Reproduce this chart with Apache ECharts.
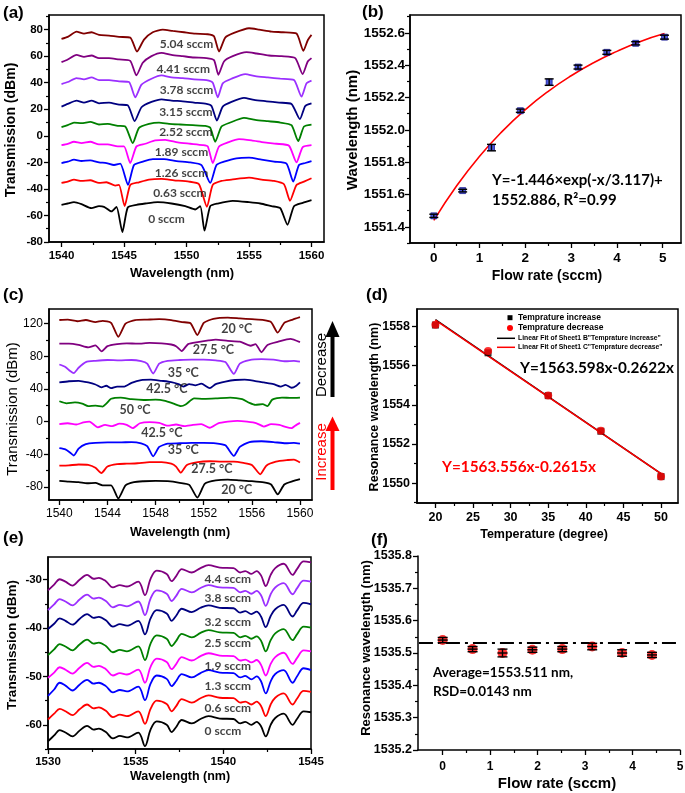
<!DOCTYPE html>
<html><head><meta charset="utf-8">
<script src="https://cdn.jsdelivr.net/npm/echarts@6/dist/echarts.min.js"></script>
<style>html,body{margin:0;padding:0;background:#fff}#c{width:685px;height:793px}</style>
</head><body><div id="c"></div>
<script>
// ---------- Panel (a): spectra vs flow rate ----------
const a0 = [[1540,-52],[1540.5,-51],[1541,-50],[1541.6,-51.5],[1542.4,-54.5],[1543,-53],[1543.4,-53.5],[1544,-57],[1544.4,-53.5],[1544.87,-72.5],[1545.3,-54],[1546,-52],[1546.7,-51],[1547.7,-50],[1548.8,-51],[1549.9,-53],[1550.7,-55.5],[1551.1,-53],[1551.44,-71.5],[1551.9,-53],[1552.5,-51],[1553.7,-49],[1555,-50],[1555.9,-51],[1556.8,-53],[1557.5,-54.5],[1558.08,-67],[1558.6,-53],[1559.3,-50.5],[1560,-48.5]];
const a1 = [[1540,-35.5],[1540.5,-34.5],[1541,-33],[1541.6,-34],[1542.3,-33.5],[1543,-35.5],[1543.6,-35],[1544.3,-37.5],[1544.6,-37],[1545.05,-53],[1545.5,-37],[1546.2,-35],[1547,-33],[1548,-32.5],[1549,-33.5],[1550.2,-34.5],[1551,-36.5],[1551.63,-53.5],[1552.1,-37],[1552.8,-34],[1553.6,-33],[1555,-31.5],[1556,-33],[1557,-34],[1557.8,-36.5],[1558.28,-49],[1558.8,-37],[1559.4,-34.5],[1560,-32]];
const a2 = [[1540,-20.5],[1540.5,-19.5],[1541,-18],[1541.6,-19],[1542.3,-18.5],[1543,-20],[1543.6,-20.5],[1544.2,-22],[1544.7,-21],[1545.32,-37],[1545.8,-22],[1546.5,-19.5],[1547.3,-17.5],[1548.2,-17.5],[1549.2,-19],[1550.3,-20],[1551.2,-22],[1551.9,-35.5],[1552.4,-22],[1553,-19.5],[1554,-17],[1555,-16.5],[1556,-18],[1557,-19.5],[1558,-21],[1558.54,-34.5],[1559,-22],[1559.5,-20.5],[1560,-19]];
const a3 = [[1540,-7],[1540.5,-6],[1541,-4.5],[1541.6,-5.5],[1542.3,-4.5],[1543,-6.5],[1543.7,-6.5],[1544.5,-8],[1545,-8],[1545.5,-20.5],[1546,-8],[1546.7,-6],[1547.5,-3.5],[1548.3,-3],[1549.3,-5],[1550.3,-6],[1551.3,-7],[1551.7,-8],[1552.1,-20.5],[1552.6,-8],[1553.3,-5],[1554.2,-2.5],[1555.2,-3.5],[1556.2,-5],[1557.2,-6],[1558.2,-7.5],[1558.8,-20],[1559.3,-8.5],[1560,-7]];
const a4 = [[1540,6.5],[1540.5,8],[1541,10],[1541.6,9.5],[1542.3,10.5],[1543,8.5],[1543.7,9],[1544.5,7.5],[1545.1,7],[1545.7,-5.5],[1546.2,6],[1547,9],[1547.8,10],[1548.6,9],[1549.5,8.5],[1550.5,8],[1551.5,7.5],[1551.9,6],[1552.3,-4.5],[1552.8,7],[1553.5,10],[1554.6,13.5],[1555.5,12],[1556.5,11],[1557.5,10],[1558.4,8],[1558.94,-4],[1559.4,7],[1560,8.5]];
const a5 = [[1540,22],[1540.5,24],[1541.2,26.5],[1541.8,25],[1542.4,26.5],[1543,24.5],[1543.8,25],[1544.6,23.5],[1545.3,23],[1545.85,11],[1546.4,21.5],[1547.2,25.5],[1548,27.5],[1548.8,26.5],[1549.7,26],[1550.6,25],[1551.6,24],[1552,22.5],[1552.43,11.5],[1552.9,22],[1553.6,25.5],[1554.6,28.5],[1555.4,27],[1556.4,26],[1557.4,25],[1558.4,24],[1559.07,12.5],[1559.5,22.5],[1560,24.5]];
const a6 = [[1540,39],[1540.5,40.5],[1541.2,43.5],[1541.8,42.5],[1542.4,44],[1543,42],[1543.8,42],[1544.6,41],[1545.4,40.5],[1545.9,29],[1546.4,38.5],[1547.2,43],[1548,45.5],[1548.8,44],[1549.7,43.5],[1550.6,42.5],[1551.6,42],[1552.1,40],[1552.5,29],[1552.9,39.5],[1553.6,43],[1554.7,46.5],[1555.5,45],[1556.5,44],[1557.5,43],[1558.6,42],[1559.2,29.5],[1559.6,39.5],[1560,41.5]];
const a7 = [[1540,55.5],[1540.5,57.5],[1541.2,61],[1541.8,59.5],[1542.4,60.5],[1543,58.5],[1543.8,58.5],[1544.6,57.5],[1545.5,56.5],[1545.99,45.5],[1546.5,55],[1547.2,60],[1548,62.5],[1548.8,61],[1549.7,60],[1550.6,59],[1551.6,58.5],[1552.2,57],[1552.55,46],[1553,56],[1553.7,60],[1554.8,63],[1555.6,62],[1556.6,60.5],[1557.6,60],[1558.7,58.5],[1559.29,46.5],[1559.7,56],[1560,58.5]];
const a8 = [[1540,73],[1540.5,74.5],[1541.2,78.5],[1541.8,77],[1542.4,78],[1543,76],[1543.8,75.5],[1544.6,74.5],[1545.5,74],[1546.04,63.5],[1546.6,72.5],[1547.3,78],[1548.1,80],[1548.9,79],[1549.8,78],[1550.7,77],[1551.7,76.5],[1552.2,75],[1552.6,63.5],[1553.1,74],[1553.8,77.5],[1555,81],[1555.8,80],[1556.8,78.5],[1557.7,78],[1558.8,77],[1559.35,64],[1559.7,72],[1560,76]];
const aLabelNames = ['0 sccm','0.63 sccm','1.26 sccm','1.89 sccm','2.52 sccm','3.15 sccm','3.78 sccm','4.41 sccm','5.04 sccm'];
const aLabelPos = [[1546.97,-62.8],[1547.37,-43.8],[1547.5,-28.2],[1547.5,-12.6],[1547.85,2.3],[1547.85,17.8],[1547.9,34.4],[1547.64,49.8],[1547.9,68.7]];
const aXTicks = [1540,1545,1550,1555,1560], aXMinor = [1542.5,1547.5,1552.5,1557.5];
const aYTicks = [-80,-60,-40,-20,0,20,40,60,80], aYMinor = [-70,-50,-30,-10,10,30,50,70,90];

// ---------- Panel (b): wavelength vs flow rate ----------
const bFlow = [0,0.63,1.26,1.89,2.52,3.15,3.78,4.41,5.04];
const bWave = [1551.468,1551.624,1551.89,1552.118,1552.295,1552.388,1552.479,1552.535,1552.573];
const bErr  = [0.01,0.008,0.02,0.01,0.02,0.012,0.012,0.01,0.012];
const bFitX = [0,0.5,1,1.5,2,2.5,3,3.5,4,4.5,5.04];
const bFitY = [1551.44,1551.654,1551.837,1551.992,1552.125,1552.238,1552.334,1552.416,1552.485,1552.545,1552.595];
const bXTicks = [0,1,2,3,4,5], bXMinor = [0.5,1.5,2.5,3.5,4.5];
const bYTicks = [1551.4,1551.6,1551.8,1552.0,1552.2,1552.4,1552.6], bYMinor = [1551.3,1551.5,1551.7,1551.9,1552.1,1552.3,1552.5,1552.7];

// ---------- Panel (c): spectra vs temperature ----------
const c0 = [[1540,-72.5],[1540.8,-73.5],[1541.6,-74],[1542.3,-75.5],[1543,-75],[1543.6,-78],[1544.3,-78],[1544.9,-94],[1545.5,-78],[1546.2,-74],[1547,-73],[1548,-72.5],[1549,-73],[1550,-75],[1550.8,-77.5],[1551.47,-93],[1552.1,-76],[1553,-72],[1554,-71],[1555,-72],[1556,-73],[1557,-74.5],[1557.6,-77],[1558.15,-89],[1558.7,-77],[1559.4,-73],[1560,-70.5]];
const c1 = [[1540,-54],[1540.8,-53.5],[1541.6,-52.5],[1542.4,-53],[1543,-56.5],[1543.5,-63],[1544,-55],[1544.8,-52],[1545.6,-51.5],[1546.5,-51],[1547.5,-49.5],[1548.5,-49.5],[1549.3,-51.5],[1549.7,-55],[1550.1,-62.5],[1550.6,-53],[1551.5,-49.5],[1552.5,-48.5],[1553.5,-49],[1554.5,-49],[1555.3,-50.5],[1556,-53],[1556.7,-64.5],[1557.2,-54],[1558,-49],[1559,-47],[1559.5,-46.5],[1560,-50]];
const c2 = [[1540,-32.5],[1540.5,-34],[1540.9,-38],[1541.2,-41.5],[1541.6,-33],[1542.2,-27.5],[1543,-26],[1544,-25.5],[1545,-25.5],[1546,-25],[1546.8,-26.5],[1547.3,-30],[1547.8,-42.5],[1548.3,-31],[1549,-27],[1550,-26.5],[1551,-26],[1552,-26],[1553,-26.5],[1553.8,-29],[1554.5,-42],[1555,-31],[1555.8,-25],[1556.8,-24],[1557.8,-25],[1558.8,-26.5],[1559.5,-26],[1560,-27]];
const c3 = [[1540,-3],[1540.7,-2],[1541.4,-3.5],[1542,-1],[1542.5,0],[1543.2,-7],[1543.8,-4],[1544.4,-5.5],[1545,-2.5],[1545.6,-4],[1546.1,-8],[1546.7,-2],[1547.5,-0.5],[1548.3,-1.5],[1549,-5],[1549.7,-3.5],[1550.4,-5.5],[1551.1,-4],[1551.8,-3],[1552.5,-7.5],[1553.2,-2],[1554,0],[1554.8,1],[1555.6,0],[1556.4,-2],[1557,-6],[1557.6,-3],[1558.3,-4],[1558.8,-6.5],[1559.3,-8],[1559.6,-5],[1560,-1.5]];
const c4 = [[1540,25],[1540.6,22.5],[1541.3,23.5],[1541.9,22],[1542.4,19],[1543,19.5],[1543.6,18.5],[1543.9,22],[1544.3,28],[1545.1,29.5],[1546,27.5],[1547,26.5],[1548,27],[1548.8,25.5],[1549.5,22],[1550.1,19],[1550.5,21],[1551.2,28.5],[1552,28],[1553,28.5],[1554.2,29.5],[1555.2,27.5],[1555.8,23],[1556.3,20.5],[1556.9,21.5],[1557.3,19],[1557.7,27],[1558.5,29.5],[1559.3,29],[1560,29.5]];
const c5 = [[1540,48],[1540.8,49.5],[1541.6,50],[1542.4,48],[1543,45.5],[1543.5,42],[1543.9,44],[1544.3,41],[1544.8,43],[1545.4,43],[1546,47.5],[1546.8,51],[1547.6,51.5],[1548.5,50],[1549.3,48.5],[1549.9,46],[1550.3,43],[1550.8,46],[1551.3,44.5],[1551.8,46.5],[1552.5,41],[1553,46],[1553.8,49],[1554.6,51],[1555.4,51.5],[1556.2,50],[1557,48],[1557.8,46],[1558.4,43],[1558.8,45],[1559.3,41.5],[1559.7,44],[1560,48]];
const c6 = [[1540,70],[1540.5,67],[1540.9,62],[1541.2,59.5],[1541.6,66],[1542.2,73],[1543,74.5],[1544,75.5],[1545,75],[1546,75.5],[1546.8,74],[1547.3,71],[1547.8,59],[1548.3,71],[1549,74.5],[1550,75.5],[1551,76],[1552,76],[1553,75],[1553.8,73],[1554.5,58.5],[1555,71],[1555.8,75.5],[1556.8,76.5],[1557.8,76],[1558.8,74],[1559.5,74.5],[1560,73.5]];
const c7 = [[1540,95.5],[1540.8,95.5],[1541.6,94],[1542.4,91],[1543,93.5],[1543.52,86],[1544,92.5],[1544.8,95],[1545.6,96],[1546.5,95.5],[1547.5,96.5],[1548.5,96],[1549.3,94.5],[1549.7,92.5],[1550.17,86.5],[1550.7,95],[1551.5,97.5],[1552.4,99.5],[1553,100.5],[1554,99],[1555,98],[1555.9,93],[1556.3,95],[1556.8,85],[1557.3,94],[1558.2,98],[1559.2,101.5],[1560,97.5]];
const c8 = [[1540,124.5],[1540.7,125],[1541.5,123],[1542.2,124.5],[1543,122],[1543.6,123.5],[1544.3,121],[1544.9,104],[1545.5,120],[1546.3,124.5],[1547.3,125],[1548.3,125.5],[1549.3,124.5],[1550.2,122],[1550.9,120.5],[1551.47,106],[1552,121],[1552.8,126],[1554,127.5],[1555,126.5],[1556,125.5],[1557,124.5],[1557.6,122],[1558.15,109],[1558.7,121],[1559.4,125],[1560,128]];
const cLabelNames = ['20 °C','27.5 °C','35 °C','42.5 °C','50 °C','42.5 °C','35 °C','27.5 °C','20 °C'];
const cLabelPos = [[1553.5,-84],[1551,-58.6],[1549.06,-34.8],[1546.85,-14.2],[1545.05,13.6],[1547.27,39],[1549.06,58.8],[1551.14,87.5],[1553.5,113]];
const cXTicks = [1540,1544,1548,1552,1556,1560], cXMinor = [1542,1546,1550,1554,1558];
const cYTicks = [-80,-40,0,40,80,120], cYMinor = [-60,-20,20,60,100];

// ---------- Panel (d): resonance vs temperature ----------
const dTemp = [20,27,35,42,50];
const dInc = [1558.08,1556.66,1554.47,1552.65,1550.33];
const dDec = [1558.1,1556.75,1554.48,1552.68,1550.33];
const dFitX = [20,50];
const dFitInc = [1558.354,1550.488];
const dFitDec = [1558.326,1550.481];
const dXTicks = [20,25,30,35,40,45,50], dXMinor = [22.5,27.5,32.5,37.5,42.5,47.5];
const dYTicks = [1550,1552,1554,1556,1558], dYMinor = [1549,1551,1553,1555,1557];

// ---------- Panel (e): spectra vs flow rate ----------
const eX = [1530,1530.35,1530.67,1531,1531.4,1531.8,1532.23,1532.6,1532.9,1533.3,1533.7,1534.1,1534.5,1535.15,1535.53,1535.85,1536.2,1536.77,1537.05,1537.3,1537.63,1538.2,1538.7,1539.15,1539.8,1540.58,1540.96,1541.25,1541.6,1541.9,1542.15,1542.42,1542.7,1542.96,1543.44,1543.95,1544.2,1544.58,1545];
const e0 = [-63.4,-62.2,-61.1,-61.6,-62.4,-61.2,-60.2,-61.0,-60.8,-61.5,-62.8,-62.3,-62.6,-61.6,-64.4,-61.0,-59.3,-60.0,-61.5,-60.5,-59.0,-59.7,-58.8,-58.2,-58.7,-58.8,-59.7,-59.4,-60.0,-59.4,-60.3,-62.4,-60.0,-58.6,-57.7,-60.0,-58.8,-57.2,-57.4];
const e1 = [-58.9,-57.7,-56.7,-57.2,-58.0,-56.8,-55.8,-56.6,-56.4,-57.1,-58.4,-57.9,-58.2,-57.2,-59.8,-56.7,-55.0,-55.7,-57.2,-56.2,-54.7,-55.4,-54.5,-53.9,-54.4,-54.5,-55.4,-55.2,-55.8,-55.2,-56.1,-58.2,-55.8,-54.4,-53.5,-55.8,-54.6,-53.0,-53.2];
const e2 = [-54.0,-52.7,-51.3,-51.9,-52.9,-51.7,-50.7,-51.5,-51.3,-52.0,-53.3,-52.8,-53.1,-52.1,-54.9,-51.5,-49.8,-50.5,-52.0,-51.0,-49.5,-50.2,-49.3,-48.7,-49.2,-49.3,-50.2,-49.9,-50.6,-50.0,-51.0,-53.5,-51.0,-49.5,-48.7,-51.3,-50.0,-48.3,-48.7];
const e3 = [-50.3,-49.2,-48.1,-48.6,-49.4,-48.2,-47.2,-48.0,-47.8,-48.5,-49.8,-49.3,-49.6,-48.6,-51.3,-48.0,-46.3,-47.0,-48.5,-47.5,-46.0,-46.7,-45.8,-45.2,-45.7,-45.8,-46.7,-46.5,-47.1,-46.6,-47.6,-49.8,-47.4,-46.0,-45.1,-47.4,-46.2,-44.6,-44.8];
const e4 = [-45.6,-44.4,-43.3,-43.8,-44.6,-43.4,-42.4,-43.2,-43.0,-43.7,-45.0,-44.5,-44.8,-43.8,-46.6,-43.2,-41.5,-42.2,-43.7,-42.7,-41.2,-41.9,-41.0,-40.4,-40.9,-41.0,-41.9,-41.6,-42.2,-41.7,-42.6,-44.8,-42.5,-41.1,-40.2,-42.5,-41.3,-39.7,-39.9];
const e5 = [-40.2,-39.1,-38.0,-38.5,-39.3,-38.1,-37.1,-37.9,-37.7,-38.4,-39.7,-39.2,-39.5,-38.5,-41.3,-38.0,-36.3,-37.0,-38.5,-37.5,-36.0,-36.7,-35.8,-35.3,-35.8,-35.9,-36.8,-36.5,-37.1,-36.6,-37.6,-39.8,-37.5,-36.1,-35.2,-37.6,-36.4,-34.8,-35.1];
const e6 = [-36.3,-35.1,-34.0,-34.5,-35.3,-34.1,-33.1,-33.9,-33.7,-34.4,-35.7,-35.2,-35.5,-34.5,-37.3,-33.9,-32.2,-32.9,-34.4,-33.4,-31.9,-32.6,-31.7,-31.1,-31.6,-31.7,-32.6,-32.3,-32.9,-32.3,-33.2,-35.4,-33.0,-31.6,-30.7,-33.0,-31.8,-30.2,-30.4];
const e7 = [-32.2,-31.0,-29.9,-30.4,-31.2,-30.0,-29.0,-29.8,-29.6,-30.3,-31.6,-31.1,-31.4,-30.4,-33.2,-29.8,-28.1,-28.8,-30.3,-29.3,-27.8,-28.5,-27.6,-27.0,-27.5,-27.6,-28.5,-28.2,-28.8,-28.2,-29.1,-31.3,-29.0,-27.6,-26.7,-29.0,-27.8,-26.2,-26.4];
const eLabelNames = ['0 sccm','0.6 sccm','1.3 sccm','1.9 sccm','2.5 sccm','3.2 sccm','3.8 sccm','4.4 sccm'];
const eLabelPos = [[1538.96,-61.5],[1538.96,-56.7],[1538.96,-52],[1538.96,-47.9],[1538.96,-43.2],[1538.96,-38.8],[1538.96,-34],[1538.96,-30]];
const eXTicks = [1530,1535,1540,1545], eXMinor = [1532.5,1537.5,1542.5];
const eYTicks = [-60,-50,-40,-30], eYMinor = [-65,-55,-45,-35,-25];

// ---------- Panel (f): resonance vs flow rate ----------
const fFlow = [0,0.63,1.26,1.89,2.52,3.15,3.78,4.41];
const fWave = [1535.54,1535.512,1535.5,1535.51,1535.512,1535.52,1535.5,1535.494];
const fErr  = [0.008,0.008,0.012,0.008,0.008,0.01,0.01,0.008];
const fAvgX = [-0.5,5], fAvgY = [1535.531,1535.531];
const fXTicks = [0,1,2,3,4,5], fXMinor = [0.5,1.5,2.5,3.5,4.5];
const fYTicks = [1535.2,1535.3,1535.4,1535.5,1535.6,1535.7,1535.8], fYMinor = [1535.25,1535.35,1535.45,1535.55,1535.65,1535.75];

const palette9 = ['#000000','#ff0000','#0000ff','#ff00ff','#008000','#000080','#9b30ff','#800080','#800000'];

// ================= build =================
const AX = '"Liberation Sans", Arial, sans-serif';
const ANN = 'Lato, "Open Sans", sans-serif';

const grids = [
  {left:49, top:15, width:275, height:227},
  {left:410, top:15, width:271, height:228},
  {left:49, top:309, width:263, height:191},
  {left:417, top:309, width:261, height:194},
  {left:48, top:557, width:263, height:192},
  {left:418, top:556, width:262, height:194, show:false}
].map(g => Object.assign({show:true, borderColor:'#000', borderWidth:1.5, outerBoundsMode:'none', containLabel:false}, g));

const xAxes = [], yAxes = [];
function axPair(list, dim, g, min, max, majors, minors, fmt, fs, fw, margin){
  const pos = dim === 'x' ? 'bottom' : 'left';
  list.push({type:'value', gridIndex:g, min, max, position:pos,
    axisLine:{show:true, onZero:false, lineStyle:{color:'#000', width:1.5}},
    axisTick:{show:true, inside:false, length:5, lineStyle:{color:'#000', width:1.3}, customValues:majors},
    axisLabel:{show:true, customValues:majors, formatter:fmt, fontFamily:AX, fontSize:fs, fontWeight:fw, color:'#000', margin},
    splitLine:{show:false}, minorTick:{show:false}});
  list.push({type:'value', gridIndex:g, min, max, position:pos,
    axisLine:{show:false, onZero:false},
    axisTick:{show:true, inside:false, length:3, lineStyle:{color:'#000', width:1.2}, customValues:minors},
    axisLabel:{show:false}, splitLine:{show:false}});
}
const fInt = v => String(v);
const f1 = v => v.toFixed(1);
axPair(xAxes,'x',0,1539,1561,aXTicks,aXMinor,fInt,11.5,'bold',8);
axPair(yAxes,'y',0,-80,91,aYTicks,aYMinor,fInt,11.5,'bold',6);
axPair(xAxes,'x',1,-0.52,5.4,bXTicks,bXMinor,fInt,13.5,'bold',8);
axPair(yAxes,'y',1,1551.3,1552.71,bYTicks,bYMinor,f1,13.5,'bold',5);
axPair(xAxes,'x',2,1539.14,1561,cXTicks,cXMinor,fInt,12,'normal',8);
axPair(yAxes,'y',2,-96,138,cYTicks,cYMinor,fInt,12,'normal',6);
axPair(xAxes,'x',3,17.55,52.26,dXTicks,dXMinor,fInt,12.5,'bold',8);
axPair(yAxes,'y',3,1548.98,1558.9,dYTicks,dYMinor,fInt,12.5,'bold',7);
axPair(xAxes,'x',4,1530,1545,eXTicks,eXMinor,fInt,11.5,'bold',7);
axPair(yAxes,'y',4,-65,-25.3,eYTicks,eYMinor,fInt,11.5,'bold',6);
axPair(xAxes,'x',5,-0.52,5,fXTicks,fXMinor,fInt,12,'bold',11);
axPair(yAxes,'y',5,1535.2,1535.8,fYTicks,fYMinor,f1,12.5,'bold',6);

function lineS(g, data, color, smooth, width){
  return {type:'line', xAxisIndex:2*g, yAxisIndex:2*g, data, symbol:'none', showSymbol:false, smooth:smooth,
    lineStyle:{color, width:width||1.8}, itemStyle:{color}, silent:true, z:2};
}
function labelS(g, names, pos, fs){
  return {type:'scatter', xAxisIndex:2*g, yAxisIndex:2*g, symbolSize:1, itemStyle:{color:'rgba(0,0,0,0)'}, silent:true, z:5,
    data: names.map((n,i)=>({name:n, value:pos[i]})),
    label:{show:true, position:[0,0], align:'left', verticalAlign:'middle', formatter:'{b}', fontFamily:ANN, fontWeight:'bold', fontSize:fs, color:'#111'}};
}
function errS(g, xs, ys, es, hw, mid){
  return {type:'custom', xAxisIndex:2*g, yAxisIndex:2*g, z:6, silent:true,
    data: xs.map((x,i)=>[x, ys[i], es[i]]), encode:{x:0, y:1},
    renderItem:(p, api) => {
      const x = api.value(0), y = api.value(1), e = api.value(2);
      const t = api.coord([x, y+e]), b = api.coord([x, y-e]), c = api.coord([x, y]);
      const st = {stroke:'#000', lineWidth:1.4};
      const ch = [
        {type:'line', shape:{x1:t[0], y1:t[1], x2:b[0], y2:b[1]}, style:st},
        {type:'line', shape:{x1:t[0]-hw, y1:t[1], x2:t[0]+hw, y2:t[1]}, style:st},
        {type:'line', shape:{x1:b[0]-hw, y1:b[1], x2:b[0]+hw, y2:b[1]}, style:st}];
      if (mid) ch.push({type:'line', shape:{x1:c[0]-hw, y1:c[1], x2:c[0]+hw, y2:c[1]}, style:st});
      return {type:'group', children:ch};
    }};
}

const series = [];
[a0,a1,a2,a3,a4,a5,a6,a7,a8].forEach((d,i)=>series.push(lineS(0, d, palette9[i], 0.2)));
series.push(labelS(0, aLabelNames, aLabelPos, 12));

series.push(lineS(1, bFitX.map((x,i)=>[x,bFitY[i]]), '#ff0000', true, 1.6));
series.push({type:'scatter', xAxisIndex:2, yAxisIndex:2, symbol:'rect', symbolSize:6, z:5, silent:true,
  itemStyle:{color:'#1f2fd6', borderColor:'#000080', borderWidth:0.8}, data:bFlow.map((x,i)=>[x,bWave[i]])});
series.push(errS(1, bFlow, bWave, bErr, 4.5, false));

[c0,c1,c2,c3,c4,c5,c6,c7,c8].forEach((d,i)=>series.push(lineS(2, d, palette9[i], 0.2)));
series.push(labelS(2, cLabelNames, cLabelPos, 12.5));

series.push(lineS(3, dFitX.map((x,i)=>[x,dFitInc[i]]), '#000000', false, 1.5));
series.push(lineS(3, dFitX.map((x,i)=>[x,dFitDec[i]]), '#ff0000', false, 1.5));
series.push({type:'scatter', xAxisIndex:6, yAxisIndex:6, symbol:'rect', symbolSize:7, z:5, silent:true,
  itemStyle:{color:'#000'}, data:dTemp.map((x,i)=>[x,dInc[i]])});
series.push({type:'scatter', xAxisIndex:6, yAxisIndex:6, symbol:'circle', symbolSize:8, z:6, silent:true,
  itemStyle:{color:'#ff0000'}, data:dTemp.map((x,i)=>[x,dDec[i]])});

const eYs = [e0,e1,e2,e3,e4,e5,e6,e7];
const ePal = ['#000000','#ff0000','#0000ff','#ff00ff','#008000','#000080','#9b30ff','#800080'];
eYs.forEach((ys,i)=>series.push(lineS(4, eX.map((x,j)=>[x, ys[j]]), ePal[i], 0.35)));
series.push(labelS(4, eLabelNames, eLabelPos, 12));

series.push({type:'line', xAxisIndex:10, yAxisIndex:10, data:fAvgX.map((x,i)=>[x,fAvgY[i]]), symbol:'none', silent:true,
  lineStyle:{color:'#000', width:2, type:[14,5,3,5]}, z:2});
series.push({type:'scatter', xAxisIndex:10, yAxisIndex:10, symbol:'circle', symbolSize:10, z:5, silent:true,
  itemStyle:{color:'#ff0000'}, data:fFlow.map((x,i)=>[x,fWave[i]])});
series.push(errS(5, fFlow, fWave, fErr, 5, true));

// -------- graphic texts --------
function T(x, y, text, font, opt){
  opt = opt || {};
  return {type:'text', x, y, rotation: opt.rot || 0, z:100, silent:true,
    style:{text, x:0, y:0, font, fill: opt.color || '#000', align: opt.align || 'center', verticalAlign:'middle'}};
}
const R = Math.PI/2;
const bold = (s, f) => 'bold ' + s + 'px ' + (f || AX);
const graphic = [
  T(3,13,'(a)',bold(17),{align:'left'}), T(362,12,'(b)',bold(17),{align:'left'}),
  T(3,295,'(c)',bold(17),{align:'left'}), T(366,295,'(d)',bold(17),{align:'left'}),
  T(3,538,'(e)',bold(17),{align:'left'}), T(371,540,'(f)',bold(17),{align:'left'}),
  T(182,273,'Wavelength (nm)',bold(13)), T(11,130,'Transmission (dBm)',bold(14),{rot:R}),
  T(547,276,'Flow rate (sccm)',bold(14)), T(353,130,'Wavelength (nm)',bold(15),{rot:R}),
  T(180,533,'Wavelength (nm)',bold(12.5)), T(13,409,'Transmission (dBm)','15px '+AX,{rot:R}),
  T(544,535,'Temperature (degree)',bold(12.5)), T(375,407,'Resonance wavelength (nm)',bold(12.5),{rot:R}),
  T(180,777,'Wavelength (nm)',bold(12.5)), T(12,645,'Transmission (dBm)',bold(13.5),{rot:R}),
  T(557,784,'Flow rate (sccm)',bold(15)), T(366,648,'Resonance wavelength (nm)',bold(13),{rot:R}),
  T(492,180,'Y=-1.446×exp(-x/3.117)+',bold(15,ANN),{align:'left'}),
  T(492,200,'1552.886, R²=0.99',bold(15,ANN),{align:'left'}),
  T(520,368,'Y=1563.598x-0.2622x',bold(15.3,ANN),{align:'left'}),
  T(442,467,'Y=1563.556x-0.2615x',bold(15.3,ANN),{align:'left',color:'#ff0000'}),
  T(433,673,'Average=1553.511 nm,',bold(13.5,ANN),{align:'left'}),
  T(433,692,'RSD=0.0143 nm',bold(13.5,ANN),{align:'left'}),
  // legend (d)
  {type:'rect', shape:{x:507.5, y:315.2, width:5, height:5}, style:{fill:'#000'}, z:100, silent:true},
  {type:'circle', shape:{cx:510, cy:328, r:3}, style:{fill:'#ff0000'}, z:100, silent:true},
  {type:'line', shape:{x1:497, y1:338.3, x2:515, y2:338.3}, style:{stroke:'#000', lineWidth:1.5}, z:100, silent:true},
  {type:'line', shape:{x1:497, y1:347.3, x2:515, y2:347.3}, style:{stroke:'#ff0000', lineWidth:1.5}, z:100, silent:true},
  T(518,317.7,'Temprature increase',bold(8.5),{align:'left'}),
  T(518,328,'Temprature decrease',bold(8.5),{align:'left'}),
  T(518,338.3,'Linear Fit of Sheet1 B"Temprature increase"',bold(6.8),{align:'left'}),
  T(518,347.3,'Linear Fit of Sheet1 C"Temprature decrease"',bold(6.8),{align:'left'}),
  // arrows (c)
  {type:'rect', shape:{x:330.5, y:335, width:4, height:62}, style:{fill:'#000'}, z:100, silent:true},
  {type:'polygon', shape:{points:[[332.5,321],[325.5,337],[339.5,337]]}, style:{fill:'#000'}, z:100, silent:true},
  {type:'rect', shape:{x:330.5, y:429, width:4, height:61}, style:{fill:'#ff0000'}, z:100, silent:true},
  {type:'polygon', shape:{points:[[332.5,416.5],[325.5,431],[339.5,431]]}, style:{fill:'#ff0000'}, z:100, silent:true},
  T(321.5,365,'Decrease','15px '+AX,{rot:R}),
  T(321.5,452,'Increase','15px '+AX,{rot:R,color:'#ff0000'})
];

const chart = echarts.init(document.getElementById('c'), null, {renderer:'canvas', width:685, height:793});
chart.setOption({animation:false, backgroundColor:'#fff', grid:grids, xAxis:xAxes, yAxis:yAxes, series, graphic});
</script></body></html>
